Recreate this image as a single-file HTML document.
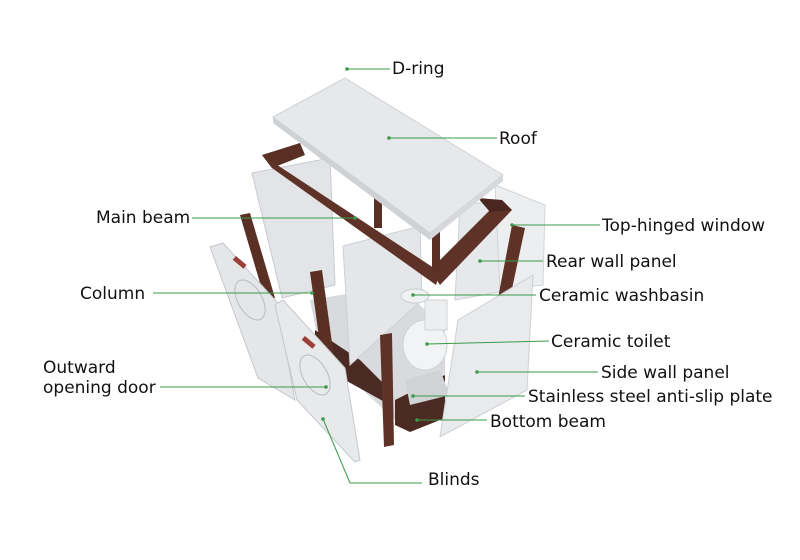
<!DOCTYPE html>
<html><head><meta charset="utf-8">
<style>
html,body{margin:0;padding:0;background:#fff;}
svg{display:block;}
text{font-family:"DejaVu Sans","Liberation Sans",sans-serif;font-size:17px;fill:#111;}
</style></head><body>
<svg width="800" height="560" viewBox="0 0 800 560" xmlns="http://www.w3.org/2000/svg">
<rect width="800" height="560" fill="#fff"/>
<!-- back panels -->
<polygon points="252,173 330,158 335,285 282,298" fill="#e2e4e7" stroke="#c9ccd0"/>
<polygon points="460,205 505,200 510,290 455,300" fill="#e6e8eb" stroke="#cfd2d5"/>
<polygon points="495,185 545,205 543,285 500,290" fill="#eceef0" stroke="#d2d5d8"/>
<!-- floor / bottom -->
<polygon points="310,300 400,285 445,330 445,400 395,420 320,350" fill="#d8dadd"/>
<polygon points="395,400 445,375 445,418 410,432 395,425" fill="#4a2a22"/>
<polygon points="315,330 360,360 390,390 390,405 345,380 315,350" fill="#4a2a22"/>
<!-- middle panel -->
<polygon points="343,246 420,226 422,300 350,365" fill="#e4e6e9" stroke="#cdd0d4"/>
<!-- toilet / basin -->
<ellipse cx="425" cy="345" rx="22" ry="25" fill="#f2f3f4" stroke="#cfd2d5"/>
<rect x="425" y="300" width="22" height="30" fill="#eceef0" stroke="#cfd2d5"/>
<ellipse cx="415" cy="296" rx="14" ry="7" fill="#f0f1f2" stroke="#c9ccd0"/>
<polygon points="405,380 440,370 450,395 410,405" fill="#d0d3d6"/>
<!-- top frame -->
<polygon points="262,155 300,143 305,155 272,168" fill="#5a2f24"/>
<polygon points="262,155 272,168 436,285 440,272" fill="#5e3227"/>
<polygon points="430,270 500,200 512,210 440,285" fill="#5e3227"/>
<polygon points="478,198 502,200 512,210 490,212" fill="#4a2620"/>
<rect x="374" y="198" width="8" height="30" fill="#5a2f24"/>
<rect x="432" y="232" width="8" height="40" fill="#5a2f24"/>
<!-- columns -->
<polygon points="240,215 250,213 275,298 265,300" fill="#5a2f24"/>
<polygon points="310,272 322,270 335,365 323,366" fill="#5a2f24"/>
<polygon points="380,335 392,333 394,445 384,447" fill="#5e3227"/>
<polygon points="512,225 525,228 500,345 490,340" fill="#5e3227"/>
<!-- roof -->
<polygon points="273,117 345,78 503,175 430,233" fill="#e6e8ea" stroke="#d0d3d6"/>
<polygon points="273,117 430,233 430,240 273,123" fill="#cfd2d5"/>
<polygon points="430,233 503,175 503,181 430,240" fill="#d6d8db"/>
<!-- side wall panel -->
<polygon points="458,320 533,275 527,390 440,437" fill="#e8eaec" stroke="#cdd0d4"/>
<!-- doors -->
<polygon points="210,247 223,243 277,302 295,400 258,378" fill="#e4e6e8" stroke="#c5c8cc"/>
<ellipse cx="250" cy="300" rx="12" ry="22" fill="none" stroke="#bbb" transform="rotate(-30 250 300)"/>
<polygon points="275,305 283,300 345,368 360,460 355,462 297,400" fill="#e8e9eb" stroke="#c5c8cc"/>
<ellipse cx="315" cy="375" rx="12" ry="22" fill="none" stroke="#bbb" transform="rotate(-30 315 375)"/>
<rect x="233" y="260" width="14" height="5" fill="#9a4038" transform="rotate(40 240 262)"/>
<rect x="302" y="340" width="14" height="5" fill="#9a4038" transform="rotate(40 309 342)"/>
<!-- leader lines -->
<g stroke="#3a9a4a" stroke-width="1" fill="none">
<line x1="347" y1="69" x2="390" y2="69"/>
<line x1="389" y1="138" x2="497" y2="138"/>
<line x1="192" y1="218" x2="355" y2="218"/>
<line x1="512" y1="225" x2="600" y2="225"/>
<line x1="480" y1="261" x2="543" y2="261"/>
<line x1="153" y1="293" x2="312" y2="293"/>
<line x1="413" y1="295" x2="536" y2="295"/>
<line x1="427" y1="344" x2="549" y2="341"/>
<line x1="160" y1="387" x2="326" y2="387"/>
<line x1="477" y1="372" x2="598" y2="372"/>
<line x1="413" y1="396" x2="525" y2="396"/>
<line x1="417" y1="420" x2="487" y2="420"/>
<polyline points="323,419 350,483 422,483"/>
</g>
<g fill="#3a9a4a">
<circle cx="347" cy="69" r="1.8"/><circle cx="389" cy="138" r="1.8"/><circle cx="355" cy="218" r="1.8"/>
<circle cx="512" cy="225" r="1.8"/><circle cx="480" cy="261" r="1.8"/><circle cx="312" cy="293" r="1.8"/>
<circle cx="413" cy="295" r="1.8"/><circle cx="427" cy="344" r="1.8"/><circle cx="326" cy="387" r="1.8"/>
<circle cx="477" cy="372" r="1.8"/><circle cx="413" cy="396" r="1.8"/><circle cx="417" cy="420" r="1.8"/>
<circle cx="323" cy="419" r="1.8"/>
</g>
<text x="392" y="74">D-ring</text>
<text x="499" y="144">Roof</text>
<text x="96" y="223">Main beam</text>
<text x="602" y="231">Top-hinged window</text>
<text x="546" y="267">Rear wall panel</text>
<text x="80" y="299">Column</text>
<text x="539" y="301">Ceramic washbasin</text>
<text x="551" y="347">Ceramic toilet</text>
<text x="43" y="373">Outward</text>
<text x="43" y="393">opening door</text>
<text x="601" y="378">Side wall panel</text>
<text x="528" y="402">Stainless steel anti-slip plate</text>
<text x="490" y="427">Bottom beam</text>
<text x="428" y="485">Blinds</text>
</svg>
</body></html>
